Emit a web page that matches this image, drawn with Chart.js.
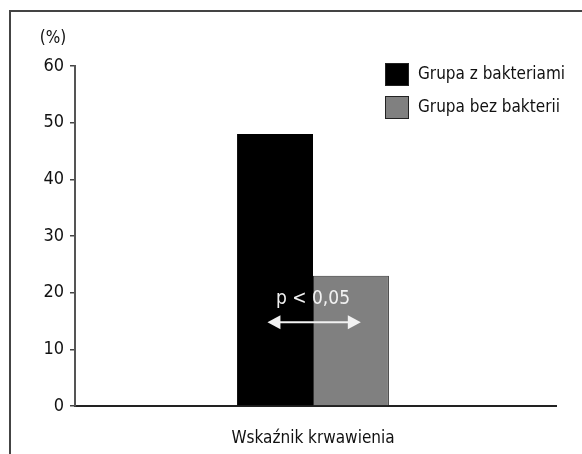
<!DOCTYPE html>
<html>
<head>
<meta charset="utf-8">
<script src="https://cdn.jsdelivr.net/npm/chart.js@4/dist/chart.umd.min.js"></script>
<style>
html,body{margin:0;padding:0;background:#fff;}
#wrap{position:relative;width:582px;height:454px;}
</style>
</head>
<body>
<div id="wrap"><canvas id="c" width="582" height="454"></canvas></div>
<script>
const categories = ['Wskaźnik krwawienia'];
const seriesNames = ['Grupa z bakteriami', 'Grupa bez bakterii'];
const withBacteria = [48];
const withoutBacteria = [23];
const yTicks = [0, 10, 20, 30, 40, 50, 60];
const unitLabel = '(%)';
const pLabel = 'p < 0,05';

const FONT = "'Liberation Sans Narrow', 'Arial Narrow', 'DejaVu Sans Condensed', sans-serif";

const decor = {
  id: 'decor',
  afterDraw(chart) {
    const ctx = chart.ctx;
    const area = chart.chartArea;
    const y = chart.scales.y;
    ctx.save();
    // frame
    ctx.strokeStyle = '#444';
    ctx.lineWidth = 2;
    ctx.beginPath();
    ctx.moveTo(10, 454);
    ctx.lineTo(10, 11);
    ctx.lineTo(582, 11);
    ctx.stroke();
    // x axis line continues a little past the plot
    ctx.strokeStyle = '#222';
    ctx.beginPath();
    ctx.moveTo(area.right, y.getPixelForValue(0));
    ctx.lineTo(area.right + 6, y.getPixelForValue(0));
    ctx.stroke();
    // unit label
    ctx.fillStyle = '#111';
    ctx.font = '17px ' + FONT;
    ctx.textAlign = 'center';
    ctx.textBaseline = 'middle';
    ctx.fillText(unitLabel, 53, 39);
    // legend
    const lx = 385, ly = 63;
    chart.data.datasets.forEach((ds, i) => {
      const top = ly + i * 33;
      ctx.fillStyle = ds.backgroundColor;
      ctx.fillRect(lx, top, 24, 23);
      ctx.strokeStyle = '#222';
      ctx.lineWidth = 1;
      ctx.strokeRect(lx + 0.5, top + 0.5, 23, 22);
      ctx.fillStyle = '#111';
      ctx.textAlign = 'left';
      ctx.font = '17px ' + FONT;
      ctx.fillText(ds.label, lx + 33, top + 12);
    });
    // significance arrow
    const b0 = chart.getDatasetMeta(0).data[0];
    const b1 = chart.getDatasetMeta(1).data[0];
    const cx = (b0.x + b1.x) / 2;
    const w = b1.x - b0.x;
    const x0 = cx - w * 0.6, x1 = cx + w * 0.63;
    const ay = y.getPixelForValue(14.8);
    ctx.strokeStyle = '#f2f2f2';
    ctx.fillStyle = '#f2f2f2';
    ctx.lineWidth = 2;
    ctx.beginPath();
    ctx.moveTo(x0 + 10, ay);
    ctx.lineTo(x1 - 10, ay);
    ctx.stroke();
    ctx.beginPath();
    ctx.moveTo(x0, ay);
    ctx.lineTo(x0 + 13, ay - 7);
    ctx.lineTo(x0 + 13, ay + 7);
    ctx.closePath();
    ctx.fill();
    ctx.beginPath();
    ctx.moveTo(x1, ay);
    ctx.lineTo(x1 - 13, ay - 7);
    ctx.lineTo(x1 - 13, ay + 7);
    ctx.closePath();
    ctx.fill();
    ctx.font = '19px ' + FONT;
    ctx.textAlign = 'center';
    ctx.fillText(pLabel, cx, y.getPixelForValue(18.8));
    ctx.restore();
  }
};

new Chart(document.getElementById('c'), {
  type: 'bar',
  data: {
    labels: categories,
    datasets: [
      { label: seriesNames[0], data: withBacteria, backgroundColor: '#000000', borderColor: '#111', borderWidth: 0 },
      { label: seriesNames[1], data: withoutBacteria, backgroundColor: '#808080', borderColor: '#333', borderWidth: 1 }
    ]
  },
  options: {
    responsive: false,
    animation: false,
    devicePixelRatio: 1,
    layout: { padding: { left: 0, right: 31, top: 66, bottom: 0 } },
    datasets: { bar: { categoryPercentage: 0.319, barPercentage: 1.0 } },
    plugins: { legend: { display: false }, tooltip: { enabled: false } },
    scales: {
      x: {
        grid: { display: false },
        border: { display: true, color: '#222', width: 2 },
        ticks: { color: '#111', font: { family: FONT, size: 17 }, padding: 14 },
        afterFit(s) { s.height = 48; }
      },
      y: {
        min: 0, max: 60,
        afterBuildTicks(s) { s.ticks = yTicks.map(v => ({ value: v })); },
        grid: { display: true, drawOnChartArea: false, drawTicks: true, tickLength: 5, color: '#444', lineWidth: 1.5 },
        border: { display: true, color: '#555', width: 2 },
        ticks: { color: '#111', font: { family: FONT, size: 18 }, padding: 6 },
        afterFit(s) { s.width = 75; }
      }
    }
  },
  plugins: [decor]
});
</script>
</body>
</html>
